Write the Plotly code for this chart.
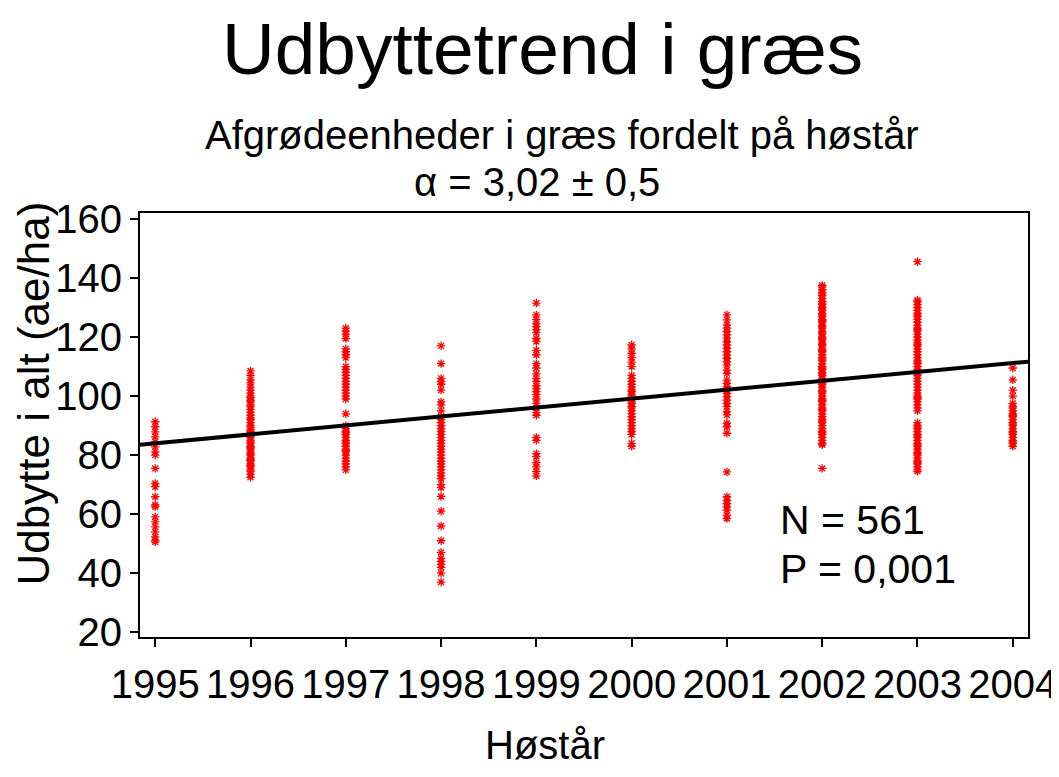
import plotly.graph_objects as go

years = [1995, 1996, 1997, 1998, 1999, 2000, 2001, 2002, 2003, 2004]
tick_labels = [str(y) for y in years]
y_ticks = [20, 40, 60, 80, 100, 120, 140, 160]

y1995 = [91.3, 89.6, 87.9, 86.2, 84.5, 82.8, 81.1, 80.0, 75.5, 70.4, 69.3, 65.9, 63.1, 62.5,
         59.1, 57.4, 55.7, 54.0, 52.3, 51.2, 50.6]
y1996 = [108.5, 107, 105.5, 104.5, 103, 102, 101, 100, 99.5, 98.5, 98, 97, 96.5, 95.5, 94.5,
         93.5, 92.5, 92, 91, 90, 89.5, 88.5, 88, 87, 86.5, 86, 85, 84.5, 84, 83, 82.5, 82, 81,
         80.5, 80, 79, 78.5, 78, 77, 76.5, 76, 75, 74.5, 73.5, 72.5]
y1997 = [123, 122, 121, 119.5, 116, 115, 114, 113, 110, 109, 108, 107, 106, 105, 104, 103, 102,
         101, 100, 99, 94, 90, 89, 88, 87.5, 87, 86, 85, 84.5, 84, 83, 82, 81.5, 81, 80, 79, 78,
         77, 76, 75]
y1998 = [117, 111, 106, 105, 104, 102, 98, 97, 95, 93, 92, 91, 90, 89, 88, 87, 86, 85, 84, 83,
         82, 81, 80, 79, 78, 77, 76, 75, 74, 73, 72, 70, 69, 66, 61, 56, 51, 47, 45, 44, 43, 42,
         40, 37]
y1999 = [131.5, 127.5, 126, 124.5, 123.5, 122.5, 121.5, 119.5, 118.5, 115.5, 114, 111, 109.5,
         107.5, 106, 105, 103.5, 102.5, 101.5, 100.5, 99, 97.5, 96, 94.5, 93.5, 86, 85, 80.5,
         79.5, 77.5, 76, 74.5, 73]
y2000 = [117.3, 116, 114.5, 113, 111.5, 110, 107, 106, 105, 104, 103, 102, 101.5, 100.5, 100,
         99, 98, 97.5, 96.5, 96, 95, 94, 93, 92, 91, 90, 89, 88, 87, 84, 83]
y2001 = [127.5, 125.8, 124.1, 123, 121.8, 120.7, 119.6, 118.4, 117.3, 116.2, 115, 113.9, 112.8,
         111.6, 110.5, 108.8, 107.7, 105.4, 104.3, 103.2, 102, 100.9, 99.8, 98.6, 97.5, 96.4,
         94.7, 93.6, 90.8, 89.6, 87.4, 74.3, 65.9, 64.7, 63.6, 62.5, 61.4, 59.7, 58.5]
y2002 = [137.5, 137, 136, 135, 134.5, 134, 133, 132, 131.5, 131, 130, 129.5, 129, 128, 127.5,
         127, 126, 125.5, 125, 124, 123.5, 123, 122, 121.5, 121, 120, 119.5, 119, 118, 117.5,
         117, 116, 115.5, 115, 114, 113, 112.5, 112, 111, 110, 109.5, 109, 108, 107.5, 107, 106,
         105, 104.5, 104, 103, 102, 101.5, 101, 100, 99, 98.5, 98, 97, 96, 95.5, 95, 94, 93, 92,
         91.5, 91, 90, 89, 88, 87.5, 87, 86, 85, 84, 83.5, 75.5]
y2003 = [145.5, 132.5, 132, 131, 130, 129, 128, 127.5, 127, 126, 125, 124, 123, 122.5, 122, 121,
         120, 119, 118, 117.5, 117, 116, 115, 114, 113, 112, 111.5, 111, 110, 109, 108, 107.5,
         107, 106, 105, 104, 103, 102, 101, 100, 99.5, 99, 98, 97, 96, 95, 91, 90, 89.5, 89, 88,
         87, 86.5, 86, 85, 84, 83.5, 83, 82, 81, 80.5, 80, 79, 78, 77.5, 77, 76, 75, 74.5]
y2004 = [109.5, 105.5, 102, 100, 97.5, 96.5, 96, 95, 94, 93.5, 93, 92, 91, 90.5, 90, 89, 88,
         87.5, 87, 86, 85, 84.5, 84, 83]

series = [y1995, y1996, y1997, y1998, y1999, y2000, y2001, y2002, y2003, y2004]

trend_slope = 3.02
trend_at_1995 = 84.0
x_range = [1994.84, 2004.16]

FONT = "Liberation Sans, Arial, Helvetica, sans-serif"

xs, ys = [], []
for yr, vals in zip(years, series):
    xs += [yr] * len(vals)
    ys += vals

fig = go.Figure()
fig.add_trace(go.Scatter(
    x=xs, y=ys, mode="markers",
    marker=dict(symbol="asterisk-open", size=7, color="red",
                line=dict(color="red", width=1.3)),
    showlegend=False, hoverinfo="x+y"))

trend_x = x_range
trend_y = [trend_at_1995 + trend_slope * (x - 1995) for x in trend_x]
fig.add_trace(go.Scatter(x=trend_x, y=trend_y, mode="lines",
                         line=dict(color="black", width=4), showlegend=False))

axis_common = dict(showline=True, mirror=True, linecolor="black", linewidth=2,
                   ticks="outside", ticklen=8, tickwidth=2, tickcolor="black",
                   showgrid=False, zeroline=False, automargin=False, tickangle=0,
                   tickfont=dict(family=FONT, size=40, color="black"))

fig.update_xaxes(range=x_range, tickvals=years, ticktext=tick_labels,
                 ticklabelstandoff=3, **axis_common)
fig.update_yaxes(range=[18.4, 162], tickvals=y_ticks, ticklabelstandoff=0, **axis_common)

def ann(text, x, y, size, xanchor="center", yanchor="middle", xref="paper", yref="paper",
        textangle=0):
    fig.add_annotation(text=text, x=x, y=y, xref=xref, yref=yref, showarrow=False,
                       xanchor=xanchor, yanchor=yanchor, textangle=textangle,
                       font=dict(family=FONT, size=size, color="black"))

ann("Udbyttetrend i græs", 0.4538, 1.387, 73)
ann("Afgrødeenheder i græs fordelt på høstår", 0.4752, 1.184, 40)
ann("α = 3,02 ± 0,5", 0.4471, 1.073, 40)
ann("Høstår", 0.4561, -0.311, 40, yanchor="bottom")
ann("Udbytte i alt (ae/ha)", -0.1194, 0.574, 44, textangle=-90)
ann("N = 561", 2001.54, 58, 41, xanchor="left", xref="x", yref="y")
ann("P = 0,001", 2001.54, 41.3, 41, xanchor="left", xref="x", yref="y")

# page body has an 8px margin, so the figure is sized/offset to fit the window
fig.update_layout(width=1051, height=761, plot_bgcolor="white", paper_bgcolor="white",
                  margin=dict(l=132, r=31, t=205, b=132),
                  font=dict(family=FONT, color="black"))

fig.write_html("out.html")
